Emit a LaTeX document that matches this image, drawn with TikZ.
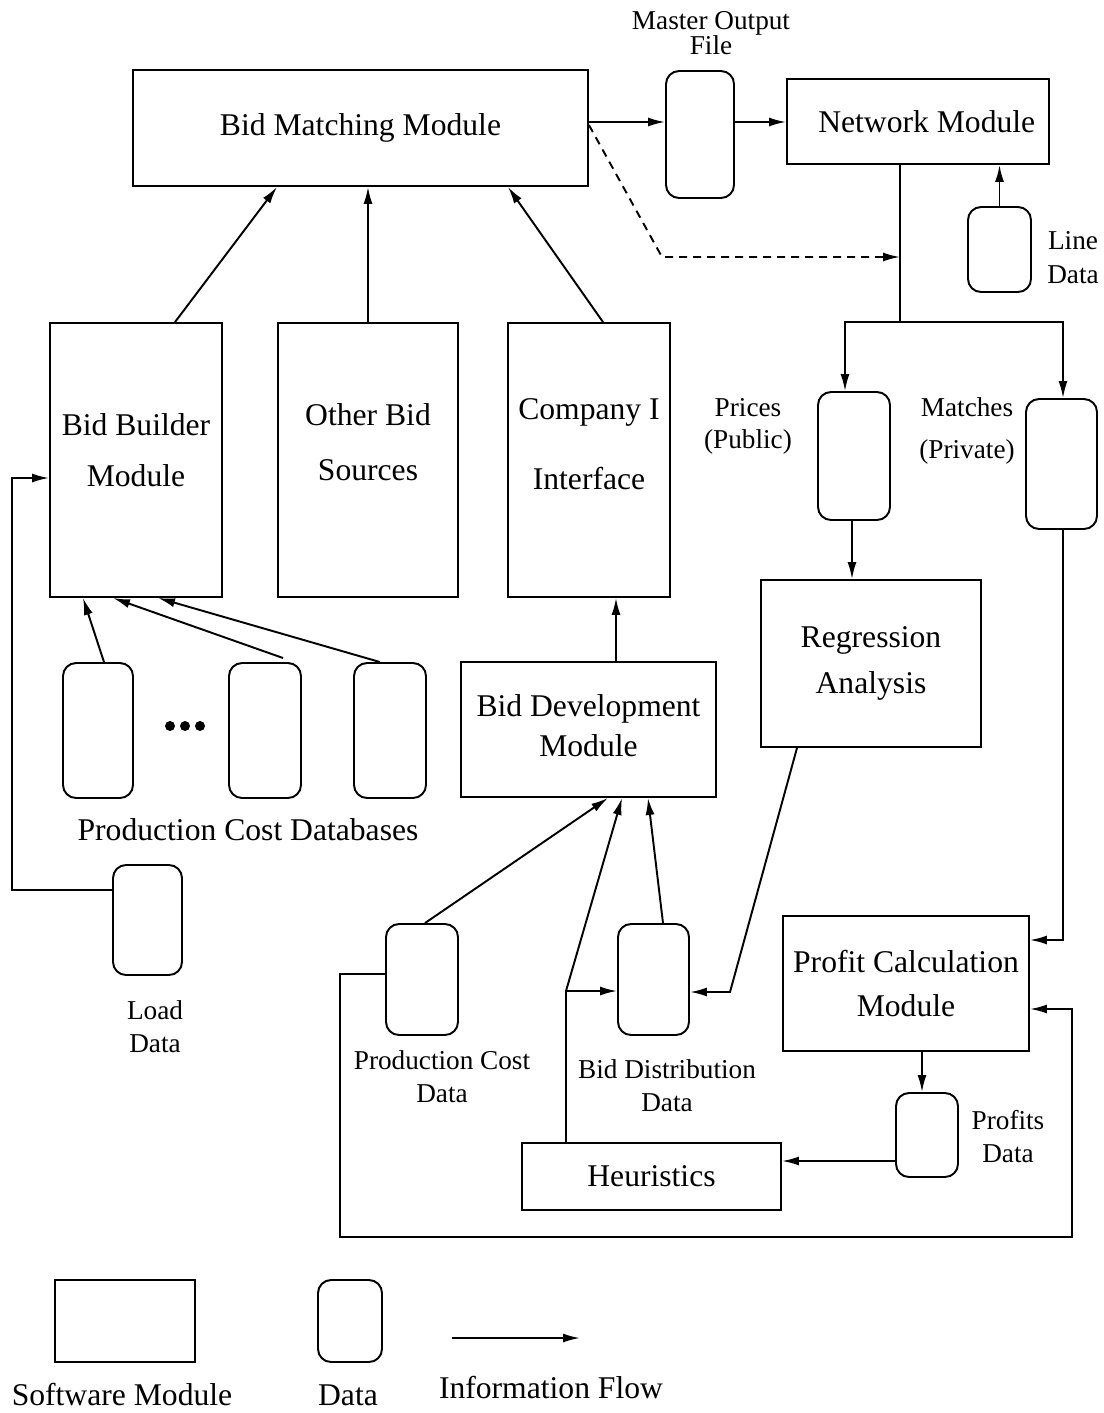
\documentclass[tikz,border=0pt]{standalone}
\usepackage{fontspec}
\setmainfont{Liberation Serif}
\usetikzlibrary{arrows.meta}
\newcommand\fsz[1]{\fontsize{18}{#1}\selectfont}
\newcommand\ssz[1]{\fontsize{15.5}{#1}\selectfont}
\tikzset{
  module/.style={draw, line width=1.1pt, inner sep=0pt, align=center},
  datastore/.style={draw, rounded corners=0.26cm, line width=1.1pt, inner sep=0pt},
  lbl/.style={align=center, inner sep=0pt},
  flow/.style={line width=1.1pt, -{Latex[length=3.4mm,width=1.8mm]}},
  plain/.style={line width=1.1pt},
  dashflow/.style={flow, dash pattern=on 1.6mm off 1.2mm},
}
\begin{document}
\begin{tikzpicture}[x=0.02cm, y=-0.02cm]
\useasboundingbox (0,0) rectangle (1104,1413);

% ---- software modules ----
\node[module, minimum width=9.10cm, minimum height=2.32cm, font=\fsz{22}] (bm) at (360.5,128) {Bid Matching Module};
\node[module, minimum width=5.24cm, minimum height=1.70cm, font=\fsz{22}] (net) at (918,121.5) {\hspace{0.35cm}Network Module};
\node[module, minimum width=3.44cm, minimum height=5.48cm, font=\fsz{28.5}, text depth=0.4cm] (bb) at (136,460) {Bid Builder\\Module};
\node[module, minimum width=3.60cm, minimum height=5.48cm, font=\fsz{31.3}, text depth=0.7cm] (obs) at (368,460) {Other Bid\\Sources};
\node[module, minimum width=3.24cm, minimum height=5.48cm, font=\fsz{39.8}, text depth=0.64cm] (ci) at (589,460) {Company I\\Interface};
\node[module, minimum width=5.10cm, minimum height=2.70cm, font=\fsz{23.3}, text depth=0.16cm] (bd) at (588.5,729.5) {Bid Development\\Module};
\node[module, minimum width=4.40cm, minimum height=3.34cm, font=\fsz{26.2}] (ra) at (871,663.5) {Regression\\Analysis};
\node[module, minimum width=4.92cm, minimum height=2.70cm, font=\fsz{24.5}] (pc) at (906,983.5) {Profit Calculation\\Module};
\node[module, minimum width=5.18cm, minimum height=1.34cm, font=\fsz{22}] (heur) at (651.5,1176.5) {Heuristics};

% ---- data ----
\node[datastore, minimum width=1.36cm, minimum height=2.54cm] (mof) at (700,134.5) {};
\node[datastore, minimum width=1.26cm, minimum height=1.70cm] (ld) at (999.5,249.5) {};
\node[datastore, minimum width=1.44cm, minimum height=2.56cm] (pr) at (854,456) {};
\node[datastore, minimum width=1.42cm, minimum height=2.60cm] (ma) at (1061.5,464) {};
\node[datastore, minimum width=1.40cm, minimum height=2.70cm] (db1) at (98,730.5) {};
\node[datastore, minimum width=1.44cm, minimum height=2.70cm] (db2) at (265,730.5) {};
\node[datastore, minimum width=1.44cm, minimum height=2.70cm] (db3) at (390,730.5) {};
\node[datastore, minimum width=1.38cm, minimum height=2.20cm] (load) at (147.5,920) {};
\node[datastore, minimum width=1.44cm, minimum height=2.22cm] (pcd) at (422,979.5) {};
\node[datastore, minimum width=1.42cm, minimum height=2.22cm] (bdd) at (653.5,979.5) {};
\node[datastore, minimum width=1.24cm, minimum height=1.68cm] (prof) at (927,1135) {};

% ---- labels ----
\node[lbl, font=\ssz{14.2}] (mofl) at (711,33) {Master Output\\File};
\node[lbl, font=\ssz{19.4}] (ldl) at (1073,258) {Line\\Data};
\node[lbl, font=\ssz{18.2}] (prl) at (748,426) {Prices\\(Public)};
\node[lbl, font=\ssz{23.9}] (mal) at (967,431) {Matches\\(Private)};
\node[lbl, font=\fsz{22}] (dbl) at (248,830) {Production Cost Databases};
\node[lbl, font=\ssz{18.8}] (loadl) at (155,1027) {Load\\Data};
\node[lbl, font=\ssz{18.8}] (pcdl) at (442,1077) {Production Cost\\Data};
\node[lbl, font=\ssz{18.8}] (bddl) at (667,1086) {Bid Distribution\\Data};
\node[lbl, font=\ssz{18.8}] (profl) at (1008,1137) {Profits\\Data};

\fill (170,726) circle (0.1cm);
\fill (185,726) circle (0.1cm);
\fill (200,726) circle (0.1cm);

% ---- connectors ----
\draw[flow] (bb.north -| 175,0) -- (bm.south -| 277,0);
\draw[flow] (obs.north) -- (obs.north |- bm.south);
\draw[flow] (ci.north -| 603,0) -- (bm.south -| 508,0);
\draw[flow] (bm.east |- 0,122) -- (mof.west |- 0,122);
\draw[flow] (mof.east |- 0,122) -- (net.west |- 0,122);

\coordinate (split) at (900,322);
\coordinate (dbend) at (662,257);
\draw[dashflow] (bm.east |- 0,125) -- (dbend) -- (900,257);
\draw[plain] (net.south -| 900,0) -- (split);
\draw[flow] (split) -| (pr.north -| 845,0);
\draw[flow] (split) -| (ma.north -| 1063,0);
\draw[flow] (ld.north) -- (ld.north |- net.south);
\draw[flow] (pr.south -| 852,0) -- (ra.north -| 852,0);
\draw[flow] (ma.south -| 1063,0) |- (pc.east |- 0,940);
\draw[flow] (pc.south -| 922,0) -- (prof.north -| 922,0);
\draw[flow] (prof.west |- 0,1161) -- (heur.east |- 0,1161);
\draw[flow] (pcd.west |- 0,974) -| (340,1237) -| (1072,1009) -- (pc.east |- 0,1009);

\draw[flow] (pcd.north -| 425,0) -- (bd.south -| 608,0);
\coordinate (hj) at (566,991);
\draw[flow] (heur.north -| 566,0) -- (hj) -- (bd.south -| 622,0);
\draw[flow] (hj) -- (bdd.west |- hj);
\draw[flow] (bdd.north -| 663,0) -- (bd.south -| 648,0);
\coordinate (rj) at (730,992);
\draw[flow] (ra.south -| 797,0) -- (rj) -- (bdd.east |- rj);
\draw[flow] (bd.north -| 616,0) -- (ci.south -| 616,0);

\draw[flow] (db1.north -| 104,0) -- (bb.south -| 83,0);
\draw[flow] (283,658) -- (bb.south -| 113,0);
\draw[flow] (db3.north -| 380,0) -- (bb.south -| 158,0);
\draw[flow] (load.west |- 0,890) -| (12,478) -- (bb.west |- 0,478);

% ---- legend ----
\node[module, minimum width=2.80cm, minimum height=1.64cm] (legsm) at (125,1321) {};
\node[datastore, minimum width=1.28cm, minimum height=1.64cm] (legd) at (350,1321) {};
\coordinate (lega) at (452,1338);
\coordinate (legb) at (580,1338);
\draw[flow] (lega) -- (legb);
\node[lbl, font=\fsz{22}] (legsml) at (122,1395) {Software Module};
\node[lbl, font=\fsz{22}] (legdl) at (348,1395) {Data};
\node[lbl, font=\fsz{22}] (legfl) at (551,1388) {Information Flow};
\end{tikzpicture}
\end{document}
